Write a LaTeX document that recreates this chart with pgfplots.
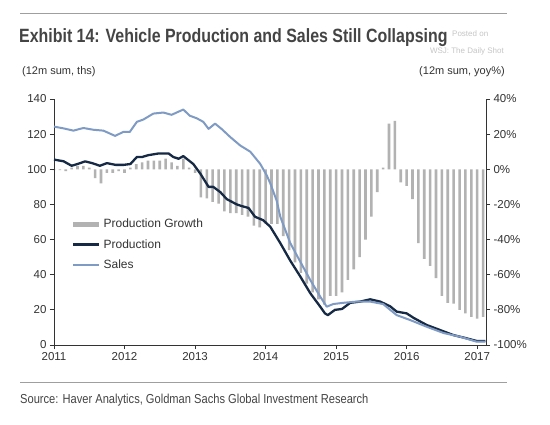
\documentclass[border=0pt]{standalone}
\usepackage{fontspec}
\setmainfont{Liberation Sans}
\newfontfamily\condfont[FakeStretch=0.83]{Liberation Sans}
\newfontfamily\srcfont[FakeStretch=0.855]{Liberation Sans}
\usepackage{pgfplots}
\usepackage{pgfplotstable}
\pgfplotsset{compat=1.18}
\definecolor{prodc}{HTML}{172A45}
\definecolor{salesc}{HTML}{7F9BC4}
\definecolor{barc}{HTML}{B2B2B2}
\definecolor{txtc}{HTML}{333333}
\definecolor{titc}{HTML}{444444}

\pgfplotstableread{
k v
0 -0.5
1 -0.5
2 -1
3 1
4 2
5 2
6 1
7 -5
8 -8
9 -2
10 -2
11 -1
12 -2
13 1
14 3
15 4
16 5
17 5
18 5
19 6
20 4
21 2
22 6
23 1
24 -2
25 -16
26 -16.5
27 -18.5
28 -19.5
29 -24
30 -25
31 -25
32 -26
33 -27
34 -32
35 -33
36 -31
37 -31
38 -31
39 -38
40 -46
41 -53
42 -59
43 -65
44 -70
45 -74
46 -77
47 -72
48 -72
49 -70
50 -63
51 -57
52 -50
53 -40
54 -27
55 -13
56 1
57 26
58 27.5
59 -7.5
60 -9.5
61 -17
62 -42
63 -51
64 -55
65 -62
66 -72
67 -76
68 -76.5
69 -80
70 -82
71 -84
72 -85
73 -84
}\growth

\pgfplotstableread{
k v
0 105.5
1.6 104.6
3 102
4 103
5.3 104.5
6.5 103.5
7.8 102
9 103.5
10.5 102.5
11.8 102.5
13 103
14.1 107
15 107
16 108
17.8 109
19.5 109
20.3 107
21.2 106
22 107.5
23.7 103
24.9 97.5
26.3 90
27.1 90
28.3 87
29.4 83
31.1 80
32 79
33.1 78
34.2 73
35.6 71
36.8 67.3
38.5 58
40.2 48
41.9 39
43.6 29.5
45.3 21.8
46.1 18
46.6 17
47.8 20
49 20.5
50.4 24
52.1 24.7
53.8 26
55.5 24.7
57.2 22
58.3 19
60 18
61.2 15.4
63.4 11.4
65.7 8.5
67.9 5.7
70.2 3.8
71.9 2.3
73.4 2.3
}\production

\pgfplotstableread{
k v
0 124.3
1.6 123.3
3.3 122
5 123.5
6.7 122.5
8.4 122
10.4 119
11.8 121.3
12.9 121.3
14.1 127
15.2 128.3
16.9 131.7
18.6 132.3
20 131
22 134
23.1 130.5
24.3 129
25.4 127
26.3 123
27.4 126
28.5 123
30 118.3
31.7 113.5
33.4 110
35.1 103
36.2 96.5
36.8 92
37.9 82
38.5 73
40.2 58
41.9 47.4
43.6 37
45.3 27.5
46.4 21.8
47.5 23.3
49.2 24
51.5 24.7
53.8 24.7
56 23.3
58.3 17
60.6 14.2
63.4 10.4
66.3 6.8
69.1 4.7
71.9 1.9
73.4 1.9
}\sales

\begin{document}
\begin{tikzpicture}[x=1pt,y=1pt]
\path[use as bounding box, fill=white] (0,0) rectangle (550,424);
\draw[gray!75, line width=1pt] (20,410) -- (507,410);
\draw[gray!75, line width=1pt] (20,42) -- (507,42);
\node[anchor=base west, font=\fontsize{8}{9}\selectfont, text=gray!45, inner sep=0] at (452,387) {Posted on};
\node[anchor=base east, font=\fontsize{8}{9}\selectfont, text=gray!45, inner sep=0] at (504,370) {WSJ: The Daily Shot};
\node[anchor=base west, inner sep=0, text=titc, font=\condfont\bfseries\fontsize{19.2}{21}\selectfont] at (19,381) {Exhibit 14: Vehicle Production and Sales Still Collapsing};
\node[anchor=base west, inner sep=0, text=txtc, font=\fontsize{11}{12}\selectfont] at (22,349) {(12m sum, ths)};
\node[anchor=base east, inner sep=0, text=txtc, font=\fontsize{11}{12}\selectfont] at (505,349) {(12m sum, yoy\%)};
\node[anchor=base west, inner sep=0, text=titc, font=\srcfont\fontsize{13}{14}\selectfont] at (20,20) {Source: Haver Analytics, Goldman Sachs Global Investment Research};

\begin{axis}[
  at={(54pt,79pt)}, anchor=south west, scale only axis,
  width=432pt, height=246pt,
  xmin=0, xmax=73.5, ymin=-100, ymax=40,
  axis x line=none, axis y line*=right,
  ytick={-100,-80,...,40},
  yticklabel={\pgfmathprintnumber{\tick}\%},
  /pgf/number format/assume math mode=true,
  tick align=outside, major tick length=4pt,
  axis line style={txtc, line width=0.8pt},
  every tick/.style={txtc, line width=0.8pt},
  ticklabel style={font=\fontsize{11.5}{12}\selectfont, text=txtc},
  clip=false,
]
\addplot[ybar, bar width=2.6pt, bar shift=0pt, fill=barc, draw=none] table[x=k,y=v] {\growth};
\end{axis}

\begin{axis}[
  at={(54pt,79pt)}, anchor=south west, scale only axis,
  width=432pt, height=246pt,
  xmin=0, xmax=73.5, ymin=0, ymax=140,
  axis x line*=bottom, axis y line*=left,
  xtick={0,12,24,36,48,60,72},
  xticklabels={2011,2012,2013,2014,2015,2016,2017},
  ytick={0,20,...,140},
  /pgf/number format/assume math mode=true,
  tick align=outside, major tick length=4pt,
  axis line style={txtc, line width=0.8pt},
  every tick/.style={txtc, line width=0.8pt},
  ticklabel style={font=\fontsize{11.5}{12}\selectfont, text=txtc},
  legend style={at={(0.038,0.52)}, anchor=north west, draw=none, fill=none,
    font=\fontsize{12}{13}\selectfont, text=txtc, row sep=6pt, inner sep=0pt},
  legend cell align=left,
]
\addlegendimage{legend image code/.code={\draw[barc, line width=5pt] (0pt,0pt) -- (26pt,0pt);}}
\addlegendentry{Production Growth}
\addplot[prodc, line width=2.3pt, line join=round, legend image code/.code={\draw[prodc, line width=2.3pt] (0pt,0pt) -- (26pt,0pt);}] table[x=k,y=v] {\production};
\addlegendentry{Production}
\addplot[salesc, line width=2pt, line join=round, legend image code/.code={\draw[salesc, line width=2pt] (0pt,0pt) -- (26pt,0pt);}] table[x=k,y=v] {\sales};
\addlegendentry{Sales}
\end{axis}
\end{tikzpicture}
\end{document}
